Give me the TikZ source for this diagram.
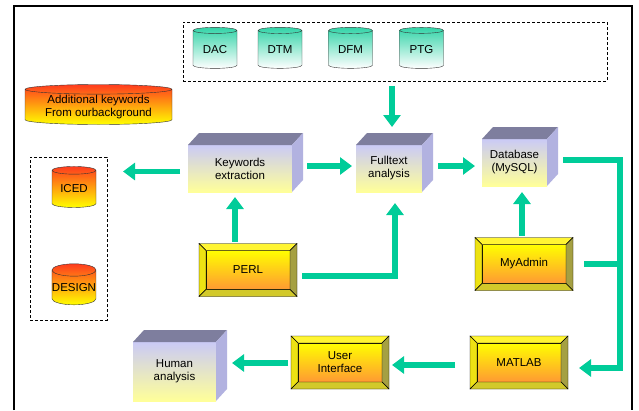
\documentclass[tikz,border=0pt]{standalone}
\usepackage{fontspec}
\setmainfont{Liberation Sans}
\usetikzlibrary{shapes.geometric,arrows.meta,calc}
\definecolor{vert}{HTML}{00CC99}
\definecolor{turquoise}{HTML}{33D4A8}
\definecolor{rouge}{HTML}{FF3C1E}
\definecolor{lavande}{HTML}{CACAF6}
\definecolor{jaunepale}{HTML}{FFFF99}
\definecolor{dessus}{HTML}{7E7E9E}
\definecolor{cote}{HTML}{B2B2E0}
\definecolor{orange}{HTML}{FF9933}
\begin{document}
\begin{tikzpicture}[x=1pt, y=-1pt, font=\fontsize{11.5}{13}\selectfont]
\tikzstyle{flux} = [draw=vert, line width=5.5pt, -{Triangle[width=17pt,length=12pt]}]
\tikzstyle{cadre} = [draw, densely dashed, thin, inner sep=0pt, outer sep=0pt]
\tikzstyle{base} = [cylinder, shape border rotate=90, draw=black!80, aspect=0.25, inner sep=0pt, outer sep=0pt, minimum width=44pt, minimum height=41pt, align=center]
\tikzstyle{verte} = [base, top color=turquoise, bottom color=white]
\tikzstyle{chaude} = [base, top color=rouge, bottom color=yellow]
\tikzstyle{bloc} = [top color=lavande, bottom color=jaunepale, inner sep=0pt, outer sep=0pt, align=center]
\tikzstyle{bouton} = [draw, top color=yellow, bottom color=orange, minimum width=84pt, minimum height=39pt, inner sep=0pt, outer sep=0pt, align=center]
\useasboundingbox (0,0) rectangle (639,410);
\draw[line width=1.3pt] (14,410) -- (14,6) -- (632,6) -- (632,410);

\node[cadre, minimum width=424pt, minimum height=59pt] (sources) at (395,51.5) {};
\node[verte] (dac) at (215,49.5) {DAC};
\node[verte] (dtm) at (280,49.5) {DTM};
\node[verte] (dfm) at (350.5,49.5) {DFM};
\node[verte] (ptg) at (421.5,49.5) {PTG};
\node[chaude, minimum width=147pt, minimum height=40pt, aspect=0.09, font=\fontsize{11.5}{12.5}\selectfont] (extra) at (98.5,107) {Additional keywords\\From ourbackground};
\node[cadre, minimum width=77pt, minimum height=163pt] (conf) at (68.5,238.5) {};
\node[chaude, aspect=0.28] (iced) at (74,189) {ICED};
\node[chaude, aspect=0.28] (design) at (74,287.5) {DESIGN};

\node[bloc, minimum width=104pt, minimum height=47pt] (kw) at (240,168.5) {Keywords\\extraction};
\node[bloc, minimum width=66pt, minimum height=47pt] (ft) at (389,168.5) {Fulltext\\analysis};
\node[bloc, minimum width=65pt, minimum height=47pt] (db) at (514.5,162.5) {Database\\(MySQL)};
\node[bloc, minimum width=83pt, minimum height=59pt] (human) at (174.5,371.5) {Human\\analysis};
\foreach \c in {kw,ft,db,human} {
  \fill[dessus] (\c.north west) -- ++(11,-12) -- ($(\c.north east)+(11,-12)$) -- (\c.north east) -- cycle;
  \fill[cote] (\c.north east) -- ++(11,-12) -- ($(\c.south east)+(11,-12)$) -- (\c.south east) -- cycle;
}

\node[bouton] (perl) at (248,270) {PERL};
\node[bouton] (myadmin) at (524,264) {MyAdmin};
\node[bouton] (ui) at (340,362.5) {User\\Interface};
\node[bouton] (matlab) at (519,362.5) {MATLAB};
\foreach \b in {perl,myadmin,ui,matlab} {
  \filldraw[fill=yellow!80!white] ($(\b.north west)+(-7,-7)$) -- ($(\b.north east)+(7,-7)$) -- (\b.north east) -- (\b.north west) -- cycle;
  \filldraw[fill=yellow!92!black] ($(\b.north west)+(-7,-7)$) -- (\b.north west) -- (\b.south west) -- ($(\b.south west)+(-7,7)$) -- cycle;
  \filldraw[fill=yellow!60!black] ($(\b.north east)+(7,-7)$) -- (\b.north east) -- (\b.south east) -- ($(\b.south east)+(7,7)$) -- cycle;
  \filldraw[fill=yellow!80!black] ($(\b.south west)+(-7,7)$) -- (\b.south west) -- (\b.south east) -- ($(\b.south east)+(7,7)$) -- cycle;
}

\coordinate (rail) at (620,0);
\draw[flux] ($(sources.south)+(-3,5)$) -- ($(ft.north)+(3,-18)$);
\draw[flux] ($(kw.west)+(-8,3)$) -- ($(conf.east |- kw.west)+(16,3)$);
\draw[flux] ($(kw.east)+(15,-2.5)$) -- ($(ft.west)+(-4,-2.5)$);
\draw[flux] ($(ft.east)+(16,-2.5)$) -- ($(db.west)+(-7,3.5)$);
\draw[flux] ($(perl.north)+(-13,-9)$) -- ($(kw.south)+(-5,5)$);
\draw[flux] ($(perl.east)+(12,6)$) -| ($(ft.south)+(6,11)$);
\draw[flux] ($(myadmin.north)+(-2,-9)$) -- ($(db.south)+(7.5,6)$);
\draw[flux] ($(db.east)+(16,-2.5)$) -| ($(rail |- matlab.east)+(0,5.5)$) -- ($(matlab.east)+(18,5.5)$);
\draw[flux, -] ($(myadmin.east)+(18,0)$) -- (rail |- myadmin.east);
\draw[flux] ($(matlab.west)+(-22,2.5)$) -- ($(ui.east)+(10,2.5)$);
\draw[flux] ($(ui.west)+(-10,0.5)$) -- ($(human.east)+(16,-8.5)$);
\end{tikzpicture}
\end{document}
